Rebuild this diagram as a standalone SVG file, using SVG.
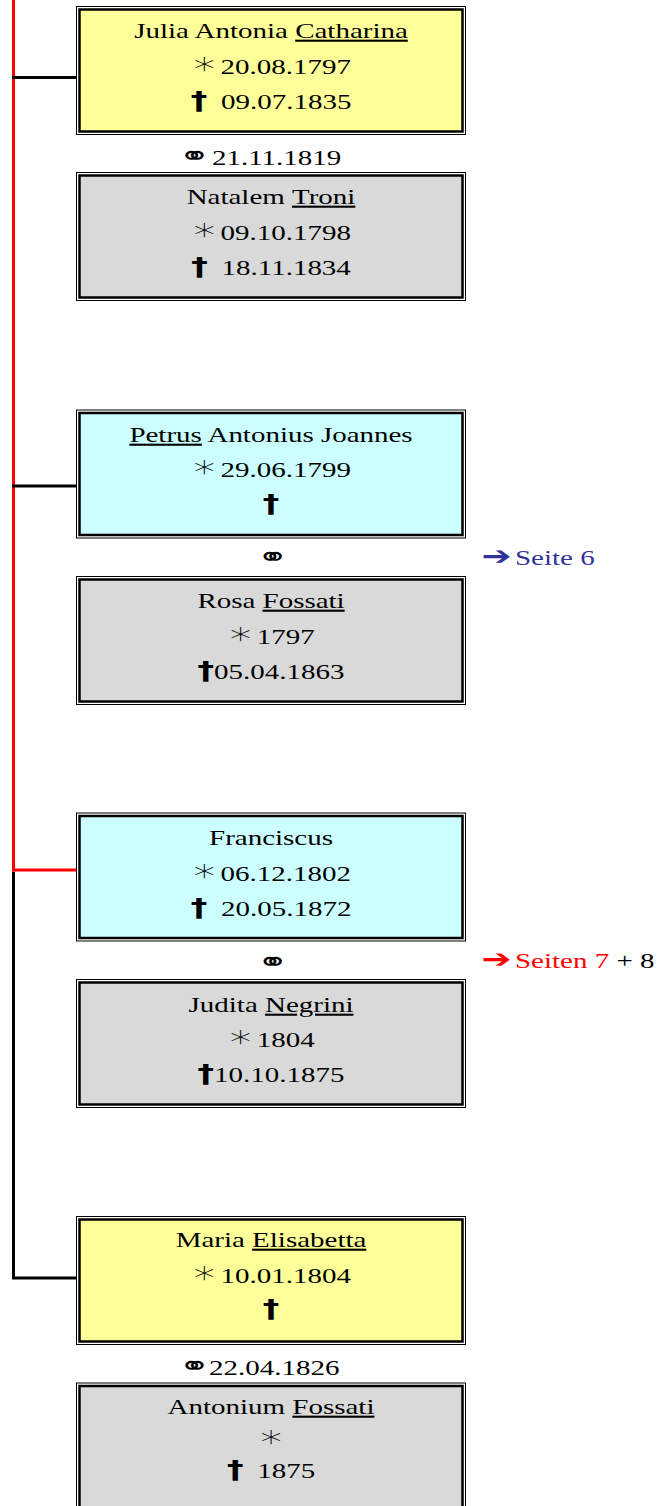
<svg xmlns="http://www.w3.org/2000/svg" width="662" height="1506" viewBox="0 0 662 1506">
<style>
.o{fill:#fff;stroke:#000;stroke-width:1}
.i{stroke:#000;stroke-width:2.5}
.y{fill:#FFFF99}.c{fill:#CCFFFF}.g{fill:#D9D9D9}
text{font-family:"Liberation Serif","Times New Roman",serif;font-size:21px;fill:#000}
.m{text-anchor:middle}
.st{font-family:"DejaVu Sans",sans-serif;font-weight:200;font-size:31px}
.dg{font-family:"DejaVu Sans",sans-serif;font-weight:bold;font-size:24px}
.mr{font-family:"DejaVu Sans",sans-serif;font-size:27px}
.u{text-decoration:underline}
.ar{font-family:"DejaVu Sans",sans-serif;font-weight:bold;font-size:26px}
.blue{fill:#333399}.red{fill:#FF0000}
.lk{stroke:#000;stroke-width:3;fill:none}
.lr{stroke:#FF0000;stroke-width:3;fill:none}
</style>
<g id="connectors">
<line class="lr" x1="13.5" y1="0" x2="13.5" y2="871.5"/>
<line class="lk" x1="12" y1="77.5" x2="77" y2="77.5"/>
<line class="lk" x1="12" y1="486" x2="77" y2="486"/>
<line class="lr" x1="12" y1="870" x2="77" y2="870"/>
<polyline class="lk" points="13.5,872 13.5,1278 77,1278"/>
</g>
<g id="julia">
<rect class="o" x="76.5" y="6.5" width="389" height="128"/>
<rect class="i y" x="79.5" y="9.5" width="383" height="122"/>
<g transform="matrix(1.38,0,0,1,0,0)">
<text class="m" x="196.4" y="38">Julia Antonia <tspan class="u">Catharina</tspan></text>
<text class="m" x="196.4" y="74"><tspan class="st">∗</tspan><tspan dx="2">20.08.1797</tspan></text>
<text class="m" x="196.4" y="109"><tspan class="dg">†</tspan><tspan dx="10">09.07.1835</tspan></text>
</g>
</g>
<g id="m1" transform="matrix(1.38,0,0,1,0,0)">
<text x="129.5" y="165"><tspan class="mr">⚭</tspan></text>
<text x="153.6" y="165">21.11.1819</text>
</g>
<g id="natalem">
<rect class="o" x="76.5" y="172.5" width="389" height="128"/>
<rect class="i g" x="79.5" y="175.5" width="383" height="122"/>
<g transform="matrix(1.38,0,0,1,0,0)">
<text class="m" x="196.4" y="204">Natalem <tspan class="u">Troni</tspan></text>
<text class="m" x="196.4" y="240"><tspan class="st">∗</tspan><tspan dx="2">09.10.1798</tspan></text>
<text class="m" x="196.4" y="275"><tspan class="dg">†</tspan><tspan dx="10">18.11.1834</tspan></text>
</g>
</g>
<g id="petrus">
<rect class="o" x="76.5" y="410" width="389" height="128"/>
<rect class="i c" x="79.5" y="413" width="383" height="122"/>
<g transform="matrix(1.38,0,0,1,0,0)">
<text class="m" x="196.4" y="442"><tspan class="u">Petrus</tspan> Antonius Joannes</text>
<text class="m" x="196.4" y="477"><tspan class="st">∗</tspan><tspan dx="2">29.06.1799</tspan></text>
<text class="m" x="196.4" y="512"><tspan class="dg">†</tspan></text>
</g>
</g>
<g id="m2" transform="matrix(1.38,0,0,1,0,0)">
<text class="m" x="197.5" y="566"><tspan class="mr">⚭</tspan></text>
<text x="349" y="565"><tspan class="ar blue">➔</tspan></text>
<text x="373.2" y="565" class="blue">Seite 6</text>
</g>
<g id="rosa">
<rect class="o" x="76.5" y="576.5" width="389" height="128"/>
<rect class="i g" x="79.5" y="579.5" width="383" height="122"/>
<g transform="matrix(1.38,0,0,1,0,0)">
<text class="m" x="196.4" y="608">Rosa <tspan class="u">Fossati</tspan></text>
<text class="m" x="196.4" y="644"><tspan class="st">∗</tspan><tspan dx="2">1797</tspan></text>
<text class="m" x="196.4" y="679"><tspan class="dg">†</tspan><tspan dx="0">05.04.1863</tspan></text>
</g>
</g>
<g id="franciscus">
<rect class="o" x="76.5" y="813" width="389" height="128"/>
<rect class="i c" x="79.5" y="816" width="383" height="122"/>
<g transform="matrix(1.38,0,0,1,0,0)">
<text class="m" x="196.4" y="845">Franciscus</text>
<text class="m" x="196.4" y="881"><tspan class="st">∗</tspan><tspan dx="2">06.12.1802</tspan></text>
<text class="m" x="196.4" y="916"><tspan class="dg">†</tspan><tspan dx="10">20.05.1872</tspan></text>
</g>
</g>
<g id="m3" transform="matrix(1.38,0,0,1,0,0)">
<text class="m" x="197.5" y="971"><tspan class="mr">⚭</tspan></text>
<text x="349" y="968"><tspan class="ar red">➔</tspan></text>
<text x="373.2" y="968"><tspan class="red">Seiten 7</tspan> + 8</text>
</g>
<g id="judita">
<rect class="o" x="76.5" y="979.5" width="389" height="128"/>
<rect class="i g" x="79.5" y="982.5" width="383" height="122"/>
<g transform="matrix(1.38,0,0,1,0,0)">
<text class="m" x="196.4" y="1012">Judita <tspan class="u">Negrini</tspan></text>
<text class="m" x="196.4" y="1047"><tspan class="st">∗</tspan><tspan dx="2">1804</tspan></text>
<text class="m" x="196.4" y="1082"><tspan class="dg">†</tspan><tspan dx="0">10.10.1875</tspan></text>
</g>
</g>
<g id="maria">
<rect class="o" x="76.5" y="1216.5" width="389" height="128"/>
<rect class="i y" x="79.5" y="1219.5" width="383" height="122"/>
<g transform="matrix(1.38,0,0,1,0,0)">
<text class="m" x="196.4" y="1247">Maria <tspan class="u">Elisabetta</tspan></text>
<text class="m" x="196.4" y="1283"><tspan class="st">∗</tspan><tspan dx="2">10.01.1804</tspan></text>
<text class="m" x="196.4" y="1317"><tspan class="dg">†</tspan></text>
</g>
</g>
<g id="m4" transform="matrix(1.38,0,0,1,0,0)">
<text x="129.5" y="1375"><tspan class="mr">⚭</tspan></text>
<text x="151.5" y="1375">22.04.1826</text>
</g>
<g id="antonium">
<rect class="o" x="76.5" y="1383" width="389" height="130"/>
<rect class="i g" x="79.5" y="1386" width="383" height="124"/>
<g transform="matrix(1.38,0,0,1,0,0)">
<text class="m" x="196.4" y="1414">Antonium <tspan class="u">Fossati</tspan></text>
<text class="m" x="196.4" y="1447"><tspan class="st">∗</tspan></text>
<text class="m" x="196.4" y="1478"><tspan class="dg">†</tspan><tspan dx="10">1875</tspan></text>
</g>
</g>
</svg>
